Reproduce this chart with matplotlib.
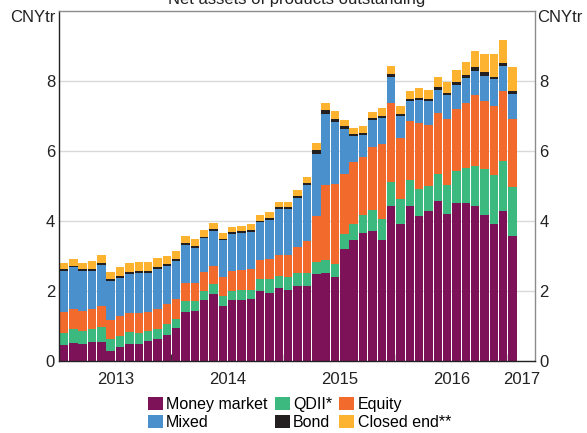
import numpy as np
import pandas as pd
import matplotlib
matplotlib.use('Agg')
import matplotlib.pyplot as plt

plt.rcParams['font.family'] = ['Liberation Sans', 'DejaVu Sans']

# monthly, Jan 2013 - Jan 2017, CNY trillion
months = pd.period_range('2013-01', '2017-01', freq='M')

money_market = [0.46, 0.51, 0.49, 0.54, 0.54, 0.29, 0.39, 0.49, 0.48, 0.56, 0.62, 0.73,
                0.94, 1.41, 1.44, 1.74, 1.90, 1.58, 1.74, 1.75, 1.76, 2.00, 1.94, 2.07,
                2.04, 2.15, 2.13, 2.49, 2.51, 2.40, 3.20, 3.46, 3.66, 3.71, 3.46, 4.43,
                3.92, 4.42, 4.14, 4.29, 4.57, 4.19, 4.50, 4.51, 4.43, 4.17, 3.90, 4.28,
                3.58]
qdii = [0.33, 0.39, 0.38, 0.36, 0.42, 0.33, 0.33, 0.34, 0.31, 0.30, 0.29, 0.34,
        0.26, 0.29, 0.27, 0.27, 0.30, 0.28, 0.27, 0.29, 0.28, 0.33, 0.39, 0.36,
        0.35, 0.37, 0.37, 0.35, 0.38, 0.36, 0.42, 0.46, 0.50, 0.59, 0.58, 0.68,
        0.71, 0.75, 0.78, 0.70, 0.76, 0.82, 0.91, 1.00, 1.14, 1.31, 1.40, 1.42,
        1.40]
equity = [0.60, 0.59, 0.57, 0.58, 0.61, 0.55, 0.57, 0.53, 0.57, 0.55, 0.58, 0.56,
          0.56, 0.54, 0.53, 0.53, 0.52, 0.54, 0.56, 0.56, 0.58, 0.56, 0.58, 0.59,
          0.63, 0.72, 0.93, 1.31, 2.13, 2.30, 1.72, 1.77, 1.67, 1.81, 2.16, 2.25,
          1.75, 1.67, 1.86, 1.75, 1.76, 1.90, 1.79, 1.86, 2.01, 1.95, 1.99, 2.01,
          1.92]
mixed = [1.18, 1.18, 1.13, 1.09, 1.17, 1.10, 1.08, 1.11, 1.16, 1.11, 1.13, 1.08,
         1.10, 1.06, 0.98, 0.96, 0.98, 1.04, 1.05, 1.05, 1.07, 1.07, 1.12, 1.32,
         1.32, 1.41, 1.60, 1.76, 2.04, 1.77, 1.29, 0.74, 0.63, 0.77, 0.74, 0.76,
         0.61, 0.59, 0.68, 0.67, 0.65, 0.68, 0.69, 0.72, 0.71, 0.72, 0.75, 0.71,
         0.72]
bond = [0.07, 0.04, 0.07, 0.07, 0.07, 0.06, 0.06, 0.06, 0.06, 0.06, 0.07, 0.07,
        0.05, 0.06, 0.06, 0.05, 0.06, 0.05, 0.06, 0.05, 0.05, 0.05, 0.05, 0.05,
        0.05, 0.06, 0.05, 0.10, 0.11, 0.09, 0.07, 0.06, 0.05, 0.05, 0.06, 0.08,
        0.06, 0.06, 0.05, 0.07, 0.08, 0.07, 0.07, 0.08, 0.09, 0.09, 0.08, 0.09,
        0.09]
closed_end = [0.16, 0.19, 0.17, 0.21, 0.21, 0.21, 0.24, 0.26, 0.25, 0.25, 0.24, 0.23,
              0.23, 0.21, 0.21, 0.20, 0.18, 0.15, 0.15, 0.16, 0.17, 0.17, 0.18, 0.15,
              0.16, 0.17, 0.18, 0.21, 0.20, 0.21, 0.19, 0.17, 0.19, 0.18, 0.23, 0.21,
              0.22, 0.21, 0.28, 0.25, 0.28, 0.30, 0.34, 0.37, 0.48, 0.52, 0.64, 0.66,
              0.67]

series = [
    ('Money market', money_market, '#7e1259'),
    ('QDII*',        qdii,         '#3bb97e'),
    ('Equity',       equity,       '#f26a2c'),
    ('Mixed',        mixed,        '#4a90cd'),
    ('Bond',         bond,         '#231f20'),
    ('Closed end**', closed_end,   '#fdb32f'),
]

x = np.arange(len(months))
x_min, x_max = -0.5, 50.4

fig = plt.figure(figsize=(5.87, 4.33), dpi=100)
ax = fig.add_axes([0.101, 0.1663, 0.8104, 0.809])

# ── stacked bars ────────────────────────────────────────────────────────────
bottom = np.zeros(len(x))
bars = {}
for name, vals, col in series:
    vals = np.asarray(vals)
    bars[name] = ax.bar(x, vals, bottom=bottom, width=0.9, color=col,
                        linewidth=0, label=name, zorder=2)
    bottom += vals

ax.set_xlim(x_min, x_max)
ax.set_ylim(0, 10)
ax.set_yticks([0, 2, 4, 6, 8])
ax.yaxis.grid(True, color='#d9d9d9', linewidth=1.0, zorder=0)
ax.set_axisbelow(True)
ax.tick_params(axis='y', length=0, labelsize=12, pad=3, colors='#222222',
               labelleft=True, labelright=True)

# year boundaries as ticks, year labels centred in between
years = months.year
bounds = [i - 0.5 for i in range(1, len(months)) if years[i] != years[i - 1]]
edges = [x_min] + bounds + [x_max]
centres = [(a + b) / 2 for a, b in zip(edges[:-1], edges[1:])]
ax.set_xticks(bounds)
ax.set_xticklabels([])
ax.set_xticks(centres, minor=True)
ax.set_xticklabels([str(y) for y in sorted(set(years))], minor=True)
ax.tick_params(axis='x', which='major', direction='in', length=5, width=1,
               color='#333333')
ax.tick_params(axis='x', which='minor', length=0, labelsize=12, pad=8,
               colors='#222222')

for side in ('left', 'bottom'):
    ax.spines[side].set_color('#222222')
for side in ('top', 'right'):
    ax.spines[side].set_color('#8c8c8c')
for sp in ax.spines.values():
    sp.set_linewidth(1.0)
    sp.set_zorder(3)

ax.text(-0.007, 0.98, 'CNYtr', transform=ax.transAxes, ha='right',
        va='center', fontsize=12, color='#222222')
ax.text(1.005, 0.98, 'CNYtr', transform=ax.transAxes, ha='left',
        va='center', fontsize=12, color='#222222')

# title sits partly above the canvas, as in the source
fig.text(0.506, 1 - 4 / 433, 'Net assets of products outstanding',
         ha='center', va='baseline', fontsize=12, color='#222222')

# legend: column-wise fill, so order to read row by row
order = ['Money market', 'Mixed', 'QDII*', 'Bond', 'Equity', 'Closed end**']
fig.legend([bars[n] for n in order], order, ncol=3, frameon=False,
           loc='upper left', bbox_to_anchor=(148 / 587, 1 - 396.5 / 433),
           borderpad=0, borderaxespad=0, fontsize=11.5,
           handlelength=0.94, handleheight=0.88, handletextpad=0.2,
           columnspacing=0.45, labelspacing=0.2)

plt.savefig('out.png', dpi=100)
plt.close()
